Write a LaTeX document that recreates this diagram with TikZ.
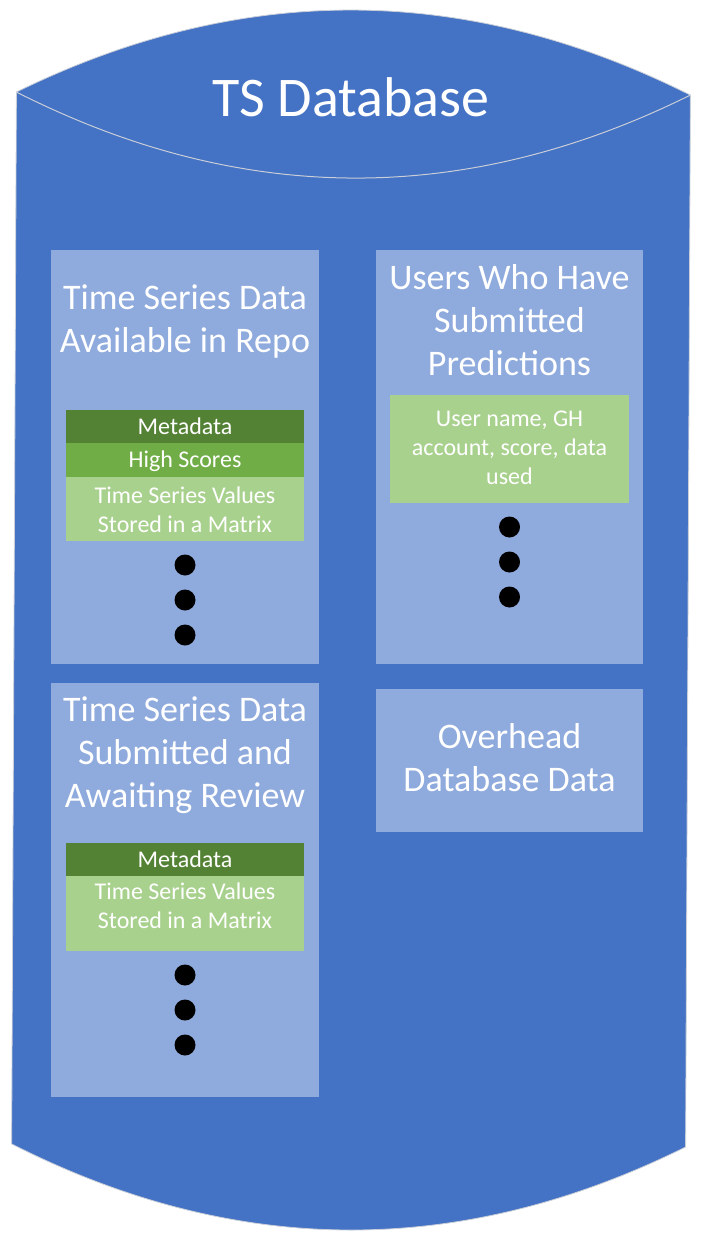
\documentclass[tikz,border=0pt]{standalone}
\usepackage{fontspec}
\setmainfont{Carlito}
\definecolor{dbblue}{HTML}{4472C4}
\definecolor{boxblue}{HTML}{8FAADC}
\definecolor{gdark}{HTML}{548235}
\definecolor{gmid}{HTML}{70AD47}
\definecolor{glight}{HTML}{A9D18E}
\definecolor{rim}{HTML}{C9CED8}
\tikzset{
  panel/.style={fill=boxblue, draw=none},
  cell/.style={draw=none},
  ttl/.style={text=white, align=center, font=\fontsize{36}{43}\selectfont, anchor=base, inner sep=0pt},
  celltxt/.style={text=white, align=center, font=\fontsize{24}{29}\selectfont, anchor=base, inner sep=0pt},
  dotmark/.style={circle, fill=black, minimum size=21pt, inner sep=0pt},
}
\begin{document}
\begin{tikzpicture}[x=1pt,y=1pt]
\useasboundingbox (0,0) rectangle (702,-1241);
% cylinder (arcs drawn as parabolic curves meeting the sides at corners)
\begin{scope}[shift={(351,-619.5)}, rotate=-0.26]
  \coordinate (tl) at (-337,526);
  \coordinate (tr) at (337,526);
  \coordinate (br) at (337,-526);
  \coordinate (bl) at (-337,-526);
  \fill[dbblue, draw=rim, line width=0.8pt] (tl) .. controls (-112.3,637.3) and (112.3,637.3) .. (tr)
     -- (br) .. controls (112.3,-638.7) and (-112.3,-638.7) .. (bl) -- cycle;
  \draw[rim, line width=1pt] (tl) .. controls (-112.3,413.3) and (112.3,413.3) .. (tr);
\end{scope}
\node[text=white, font=\fontsize{56}{60}\selectfont, anchor=base, inner sep=0pt] (title) at (351,-117) {TS Database};

% panel 1
\path[panel] (51,-250) rectangle (319,-664);
\node[ttl] (t1) at (185,-352) {Time Series Data\\Available in Repo};
\path[cell, fill=gdark] (66,-410) rectangle (304,-443);
\node[celltxt] (m1) at (185,-434) {Metadata};
\path[cell, fill=gmid] (66,-443) rectangle (304,-477);
\node[celltxt] (h1) at (185,-467) {High Scores};
\path[cell, fill=glight] (66,-477) rectangle (304,-541);
\node[celltxt] (v1) at (185,-532) {Time Series Values\\Stored in a Matrix};
\node[dotmark] (d11) at (185,-565) {};
\node[dotmark] (d12) at (185,-600) {};
\node[dotmark] (d13) at (185,-635) {};

% panel 2
\path[panel] (376,-250) rectangle (643,-664);
\node[ttl] (t2) at (509.5,-375) {Users Who Have\\Submitted\\Predictions};
\path[cell, fill=glight] (390,-395) rectangle (629,-503);
\node[celltxt] (u2) at (509.5,-484) {User name, GH\\account, score, data\\used};
\node[dotmark] (d21) at (509.5,-527) {};
\node[dotmark] (d22) at (509.5,-562) {};
\node[dotmark] (d23) at (509.5,-597) {};

% panel 3
\path[panel] (51,-683) rectangle (319,-1097);
\node[ttl] (t3) at (185,-807) {Time Series Data\\Submitted and\\Awaiting Review};
\path[cell, fill=gdark] (66,-843) rectangle (304,-876);
\node[celltxt] (m3) at (185,-867) {Metadata};
\path[cell, fill=glight] (66,-876) rectangle (304,-951);
\node[celltxt] (v3) at (185,-928) {Time Series Values\\Stored in a Matrix};
\node[dotmark] (d31) at (185,-975) {};
\node[dotmark] (d32) at (185,-1010) {};
\node[dotmark] (d33) at (185,-1045) {};

% panel 4
\path[panel] (376,-689) rectangle (643,-832);
\node[ttl] (t4) at (509.5,-791) {Overhead\\Database Data};
\end{tikzpicture}
\end{document}
